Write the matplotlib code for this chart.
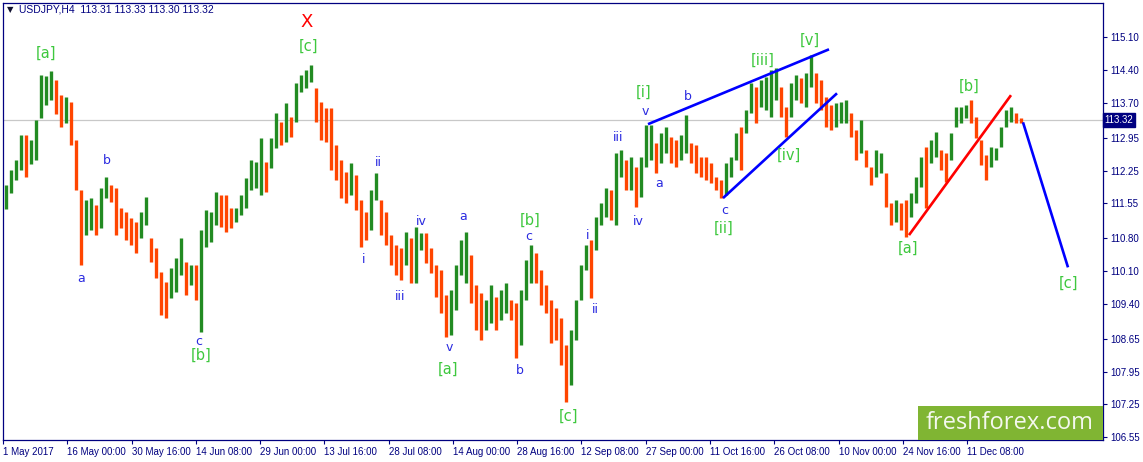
import numpy as np
import matplotlib
matplotlib.use('Agg')
import matplotlib.pyplot as plt
from matplotlib.patches import Rectangle
import matplotlib.transforms as mtransforms

# ---- data (USDJPY H4, grouped columns of bars) ----
hi = [111.94, 112.26, 112.47, 113.00, 113.00, 112.90, 113.33, 114.29, 114.27, 114.37,
      114.18, 113.86, 113.82, 113.71, 112.90, 111.83, 111.62, 111.66, 111.51, 111.87,
      112.11, 111.94, 111.87, 111.45, 111.36, 111.23, 111.15, 111.36, 111.68, 110.80,
      110.59, 110.08, 109.86, 110.16, 110.38, 110.80, 110.29, 110.23, 110.23, 110.98,
      111.40, 111.36, 111.79, 111.72, 111.72, 111.45, 111.45, 111.72, 112.09, 112.47,
      112.43, 112.94, 112.43, 112.94, 113.48, 113.28, 113.69, 113.39, 114.12, 114.29,
      114.39, 114.50, 114.01, 113.71, 113.58, 113.58, 112.79, 112.47, 112.21, 112.41,
      112.15, 111.62, 111.36, 111.83, 112.19, 111.62, 111.36, 110.87, 110.65, 110.59,
      110.93, 110.80, 111.04, 110.91, 110.91, 110.59, 110.23, 110.12, 109.59, 109.69,
      110.23, 110.76, 110.93, 110.44, 109.80, 109.63, 109.48, 109.80, 109.54, 109.69,
      109.84, 109.48, 109.42, 109.69, 110.33, 110.65, 110.48, 110.12, 109.80, 109.48,
      109.31, 109.09, 108.52, 108.84, 109.48, 110.23, 110.65, 110.76, 111.25, 111.55,
      111.87, 111.83, 112.62, 112.68, 112.47, 112.53, 112.32, 112.53, 113.22, 113.22,
      112.83, 113.05, 113.18, 112.96, 112.90, 113.00, 113.43, 112.83, 112.79, 112.53,
      112.53, 112.41, 112.11, 112.04, 112.41, 112.53, 113.05, 113.18, 113.54, 114.12,
      114.03, 114.18, 114.24, 114.39, 114.44, 114.03, 113.60, 114.12, 114.29, 114.22,
      114.33, 114.71, 114.33, 114.18, 113.82, 113.65, 113.69, 113.71, 113.75, 113.48,
      113.11, 113.33, 112.68, 112.32, 112.68, 112.62, 112.19, 111.55, 111.62, 111.55,
      111.62, 111.77, 112.11, 112.53, 112.75, 112.90, 113.07, 112.68, 112.62, 113.05,
      113.60, 113.60, 113.65, 113.75, 113.39, 112.90, 112.58, 112.75, 112.73, 113.18,
      113.54, 113.60, 113.48, 113.37]

lo = [111.42, 111.77, 112.04, 112.26, 112.11, 112.39, 112.47, 113.37, 113.65, 113.75,
      113.45, 113.18, 113.26, 112.79, 111.83, 110.23, 110.87, 110.98, 110.87, 111.02,
      111.66, 111.57, 110.87, 111.02, 110.76, 110.65, 110.48, 110.80, 111.08, 110.29,
      109.95, 109.16, 109.09, 109.52, 109.65, 110.01, 109.59, 109.80, 109.48, 108.80,
      110.61, 110.72, 111.08, 111.04, 110.93, 111.02, 111.15, 111.30, 111.45, 111.83,
      111.87, 111.72, 111.79, 112.30, 112.73, 112.79, 112.86, 112.96, 113.28, 113.92,
      114.01, 114.14, 113.28, 112.90, 112.86, 112.26, 112.04, 111.66, 111.55, 111.72,
      111.40, 110.61, 110.76, 110.98, 111.62, 110.87, 110.65, 110.23, 110.01, 109.91,
      110.23, 109.84, 109.84, 110.55, 110.27, 110.06, 109.54, 109.20, 108.69, 108.73,
      109.27, 110.01, 109.84, 109.42, 108.84, 108.62, 108.84, 108.99, 108.84, 109.05,
      109.20, 109.05, 108.24, 108.52, 109.48, 109.84, 109.84, 109.37, 109.20, 108.56,
      108.62, 108.09, 107.30, 107.66, 108.62, 109.48, 110.12, 109.52, 110.55, 111.08,
      111.25, 111.19, 111.08, 112.11, 111.83, 111.83, 111.47, 111.68, 112.32, 112.47,
      112.19, 112.41, 112.62, 112.41, 112.32, 112.47, 112.62, 112.41, 112.19, 112.11,
      112.04, 111.98, 111.83, 111.66, 111.72, 112.11, 112.47, 112.26, 113.05, 113.48,
      113.26, 113.60, 113.54, 113.39, 113.75, 113.39, 112.96, 113.39, 113.75, 113.69,
      113.60, 114.03, 113.69, 113.54, 113.18, 113.11, 113.18, 113.26, 113.26, 112.96,
      112.47, 112.62, 112.32, 111.94, 112.11, 112.19, 111.47, 111.08, 111.15, 110.98,
      110.83, 111.25, 111.55, 111.89, 111.45, 112.41, 112.53, 112.26, 112.00, 112.47,
      113.18, 113.26, 113.37, 113.26, 112.94, 112.36, 112.04, 112.32, 112.47, 112.75,
      113.18, 113.28, 113.26, 113.26]

x_labels = ['1 May 2017', '16 May 00:00', '30 May 16:00', '14 Jun 08:00', '29 Jun 00:00',
            '13 Jul 16:00', '28 Jul 08:00', '14 Aug 00:00', '28 Aug 16:00', '12 Sep 08:00',
            '27 Sep 00:00', '11 Oct 16:00', '26 Oct 08:00', '10 Nov 00:00', '24 Nov 16:00',
            '11 Dec 08:00']
y_ticks = [115.10, 114.40, 113.70, 112.95, 112.25, 111.55, 110.80, 110.10,
           109.40, 108.65, 107.95, 107.25, 106.55]
last_price = 113.32
title_text = 'USDJPY,H4  113.31 113.33 113.30 113.32'

# wave labels: text, bar position, price, kind
wave_labels = [
    ('[a]', 43, 114.76, 'g'), ('a', 78, 109.95, 'b'), ('b', 104, 112.47, 'b'),
    ('c', 196, 108.60, 'b'), ('[b]', 198, 108.30, 'g'), ('X', 304, 115.42, 'r'),
    ('[c]', 305, 114.91, 'g'), ('ii', 375, 112.43, 'b'), ('i', 361, 110.35, 'b'),
    ('iii', 397, 109.56, 'b'), ('iv', 418, 111.17, 'b'), ('a', 460, 111.27, 'b'),
    ('v', 446, 108.47, 'b'), ('[a]', 445, 108.00, 'g'), ('b', 517, 107.98, 'b'),
    ('[b]', 527, 111.19, 'g'), ('c', 526, 110.83, 'b'), ('i', 585, 110.87, 'b'),
    ('ii', 592, 109.27, 'b'), ('iii', 615, 112.96, 'b'), ('iv', 635, 111.15, 'b'),
    ('[c]', 565, 107.00, 'g'), ('[i]', 641, 113.92, 'g'), ('v', 642, 113.52, 'b'),
    ('b', 685, 113.84, 'b'), ('a', 656, 111.98, 'b'), ('c', 722, 111.40, 'b'),
    ('[ii]', 721, 111.02, 'g'), ('[iii]', 760, 114.61, 'g'), ('[v]', 807, 115.04, 'g'),
    ('[iv]', 786, 112.58, 'g'), ('[a]', 905, 110.59, 'g'), ('[b]', 966, 114.05, 'g'),
    ('[c]', 1065, 109.84, 'g'),
]

# wave lines: (bar0, price0, bar1, price1, color)
wave_lines = [
    (645, 113.24, 826, 114.84, '#0000ff'),
    (720, 111.66, 834, 113.90, '#0000ff'),
    (906, 110.87, 1008, 113.86, '#ff0000'),
    (1020, 113.28, 1065, 110.18, '#0000ff'),
]

BARS_PER_COL = 5
LABEL_SPACING = 64.27
NAVY = '#000080'
UP = '#228b22'
DOWN = '#ff4500'

W, H = 1143, 462
fig = plt.figure(figsize=(W / 100, H / 100), dpi=100)
ax = fig.add_axes([3 / W, 22 / H, 1100 / W, 437 / H])
ax.set_xlim(0, 1100)
ax.set_ylim(106.49, 115.83)

hi_a = np.array(hi)
lo_a = np.array(lo)
mid = (hi_a + lo_a) / 2
xs = np.arange(len(hi_a)) * BARS_PER_COL + BARS_PER_COL / 2
colors = [UP] + [UP if mid[i] >= mid[i - 1] else DOWN for i in range(1, len(mid))]

ax.axhline(last_price, color='#c8c8c8', lw=0.9, zorder=1)
ax.vlines(xs, lo_a, hi_a, colors=colors, linewidth=2.4, zorder=2)

for x0, y0, x1, y1, c in wave_lines:
    ax.plot([x0, x1], [y0, y1], color=c, lw=1.9, zorder=3, solid_capstyle='butt')

kind_style = {'g': dict(color='#3ec83e', fontsize=10.5),
              'b': dict(color='#2a2ae0', fontsize=9),
              'r': dict(color='#ff0000', fontsize=13)}
for t, x, y, k in wave_labels:
    ax.text(x, y, t, ha='center', va='center', zorder=4,
            family='DejaVu Sans', **kind_style[k])

# axes styling
for s in ax.spines.values():
    s.set_color(NAVY)
    s.set_linewidth(0.9)
ax.yaxis.tick_right()
ax.set_yticks(y_ticks)
ax.set_yticklabels(['%.2f' % v for v in y_ticks])
ax.tick_params(axis='y', direction='out', length=3, color=NAVY, labelcolor=NAVY,
               labelsize=7, pad=2)
ax.set_xticks([i * LABEL_SPACING for i in range(len(x_labels))])
ax.set_xticklabels(x_labels)
ax.tick_params(axis='x', direction='out', length=3, color=NAVY, labelcolor=NAVY,
               labelsize=7, pad=2)
for lab in ax.get_xticklabels():
    lab.set_ha('left')
for lab in ax.get_xticklabels() + ax.get_yticklabels():
    lab.set_family(['Liberation Sans Narrow', 'Liberation Sans'])

# last price tag
trans = mtransforms.blended_transform_factory(ax.transAxes, ax.transData)
ax.text(1.0015, last_price, '%.2f' % last_price, transform=trans, ha='left', va='center',
        color='white', fontsize=7, family=['Liberation Sans Narrow', 'Liberation Sans'],
        bbox=dict(boxstyle='square,pad=0.2', fc=NAVY, ec=NAVY), zorder=5, clip_on=False)

# title
fig.text(7 / W, 1 - 10 / H, '\u25BC', fontsize=6, color='#101030', va='center', ha='left')
fig.text(19 / W, 1 - 10 / H, title_text, fontsize=7.5, color=NAVY, va='center', ha='left',
         family=['Liberation Sans Narrow', 'Liberation Sans'])

# logo
fig.patches.append(Rectangle((918 / W, 22 / H), 185 / W, 34 / H, transform=fig.transFigure,
                             facecolor='#80b533', edgecolor='none', zorder=10))
fig.text(1010 / W, 39 / H, 'freshforex.com', color='#f4f8ee', fontsize=17,
         family='Open Sans', ha='center', va='center', zorder=11)

fig.savefig('out.png', dpi=100)
